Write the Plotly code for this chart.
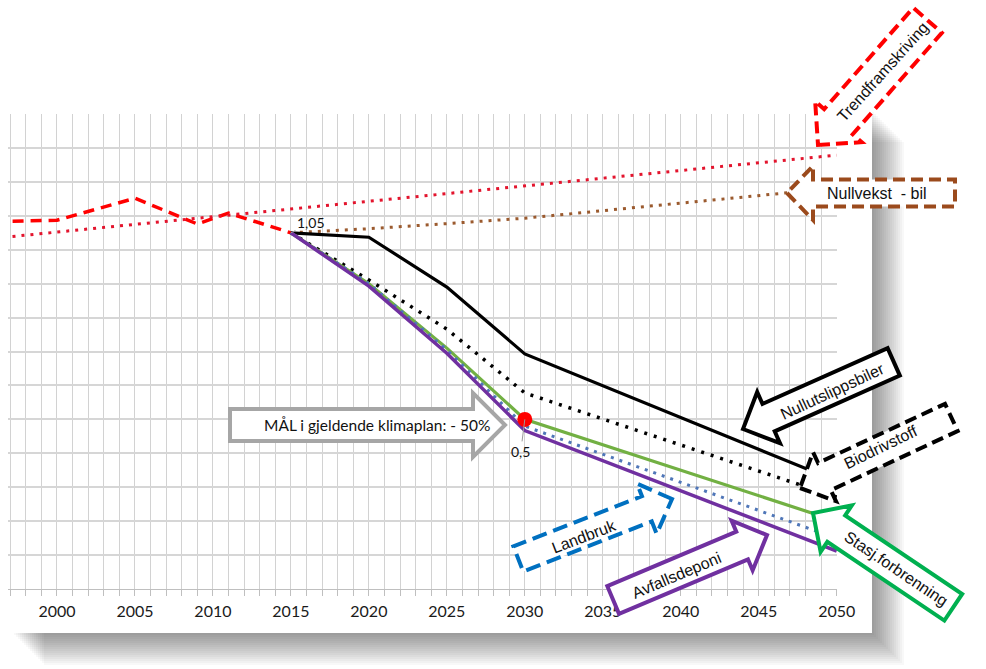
import math
import plotly.graph_objects as go

# ---------------- data ----------------
hist_years = [1996, 2000, 2005, 2009, 2011, 2015]
hist_values = [1.083, 1.087, 1.152, 1.076, 1.108, 1.05]

trend_years = [1996, 2050]
trend_values = [1.034, 1.279]

scen_years = [2015, 2020, 2025, 2030, 2050]
nullvekst_bil = [1.05, 1.062, 1.077, 1.093, 1.182]
nullutslippsbiler = [1.05, 1.037, 0.89, 0.693, 0.318]
biodrivstoff = [1.05, 0.911, 0.766, 0.578, 0.271]
stasj_forbrenning = [1.05, 0.90, 0.71, 0.50, 0.20]
landbruk = [1.05, 0.90, 0.705, 0.48, 0.149]
avfallsdeponi = [1.05, 0.893, 0.695, 0.467, 0.112]

goal_year = [2030]
goal_value = [0.5]

tick_years = [2000, 2005, 2010, 2015, 2020, 2025, 2030, 2035, 2040, 2045, 2050]

# ---------------- layout geometry ----------------
W, H = 986, 669
L, R, T, B = 8, 837, 114, 589          # plot area in page pixels


def px(x, y):
    """page pixel -> paper coords"""
    return (x - L) / (R - L), (B - y) / (B - T)


fig = go.Figure()

FONT_TICK = "Lato, 'Open Sans', sans-serif"
FONT_CALL = "'Liberation Sans', Arial, sans-serif"

fig.add_trace(go.Scatter(x=hist_years, y=hist_values, mode="lines",
                         line=dict(color="#FF0000", width=3.5, dash="11px,7px"),
                         hoverinfo="skip"))
fig.add_trace(go.Scatter(x=trend_years, y=trend_values, mode="lines",
                         line=dict(color="#E3142D", width=3, dash="3px,6px"),
                         hoverinfo="skip"))
fig.add_trace(go.Scatter(x=scen_years, y=nullvekst_bil, mode="lines",
                         line=dict(color="#9B5A2E", width=3, dash="3px,6px"),
                         hoverinfo="skip"))
fig.add_trace(go.Scatter(x=scen_years, y=nullutslippsbiler, mode="lines",
                         line=dict(color="#000000", width=3.2),
                         hoverinfo="skip"))
fig.add_trace(go.Scatter(x=scen_years, y=biodrivstoff, mode="lines",
                         line=dict(color="#000000", width=3.5, dash="3px,7px"),
                         hoverinfo="skip"))
fig.add_trace(go.Scatter(x=scen_years, y=stasj_forbrenning, mode="lines",
                         line=dict(color="#72B043", width=3.2),
                         hoverinfo="skip"))
fig.add_trace(go.Scatter(x=scen_years, y=landbruk, mode="lines",
                         line=dict(color="#4F76B8", width=3, dash="3px,6px"),
                         hoverinfo="skip"))
fig.add_trace(go.Scatter(x=scen_years, y=avfallsdeponi, mode="lines",
                         line=dict(color="#7030A0", width=3.5),
                         hoverinfo="skip"))
fig.add_trace(go.Scatter(x=goal_year, y=goal_value, mode="markers",
                         marker=dict(color="#FF0000", size=15),
                         hoverinfo="skip"))

shapes = []

# soft drop shadow of the chart area (right and bottom)
for k in range(16):
    x0, y0 = px(14 + 2 * k, 112 + 2 * k)
    x1, y1 = px(874 + 2 * k, 635 + 2 * k)
    shapes.append(dict(type="rect", xref="paper", yref="paper",
                       x0=x0, y0=y0, x1=x1, y1=y1, layer="below",
                       line=dict(width=0), fillcolor="rgba(0,0,0,0.028)"))
# white chart area
x0, y0 = px(-2, 109)
x1, y1 = px(872, 633)
shapes.append(dict(type="rect", xref="paper", yref="paper",
                   x0=x0, y0=y0, x1=x1, y1=y1, layer="below",
                   line=dict(width=0), fillcolor="#FFFFFF"))


def block_arrow(tip, angle_deg, length, head_len, head_hw, body_hw):
    a = math.radians(angle_deg)
    ux, uy = math.cos(a), -math.sin(a)
    nx, ny = -uy, ux
    tx, ty = tip

    def P(s, t):
        return (tx + ux * s + nx * t, ty + uy * s + ny * t)

    pts = [P(0, 0), P(head_len, head_hw), P(head_len, body_hw), P(length, body_hw),
           P(length, -body_hw), P(head_len, -body_hw), P(head_len, -head_hw)]
    path = ""
    for i, (x, y) in enumerate(pts):
        xp, yp = px(x, y)
        path += ("M" if i == 0 else "L") + f"{xp:.5f},{yp:.5f} "
    return path + "Z"


# callouts: tip(px), angle, length, head_len, head_hw, body_hw, color, dash, text, text centre(px), textangle, font
callouts = [
    ((818, 145), 48.7, 166, 31, 31, 19, "#FF0000", "12px,6px", "Trendframskriving", (882, 72), -48, FONT_CALL, 16),
    ((787, 193), 0, 168, 26, 27, 13.5, "#9B4A1C", "12px,6px", "Nullvekst  - bil", (877, 193), 0, FONT_CALL, 16),
    ((743, 429), 24, 165, 28, 28, 15, "#000000", "solid", "Nullutslippsbiler", (832, 391), -25, FONT_CALL, 16),
    ((800, 488), 25, 167, 27, 27, 15, "#000000", "12px,6px", "Biodrivstoff", (880, 447), -26, FONT_CALL, 16),
    ((813, 513), -33.9, 169, 28, 28, 16, "#00B050", "solid", "Stasj.forbrenning", (896, 568), 34, FONT_CALL, 16),
    ((672, 499), 201.3, 165, 27, 27, 13.5, "#0070C0", "15px,7px", "Landbruk", (584, 536), -21, FONT_CALL, 16),
    ((767, 535), 202.9, 167, 27, 27, 15, "#7030A0", "solid", "Avfallsdeponi", (676, 575), -23, FONT_CALL, 16),
    ((505, 425), 180, 275, 32, 32, 16, "#A6A6A6", "solid", "MÅL i gjeldende klimaplan: - 50%", (377, 425), 0, FONT_TICK, 15.5),
]

annotations = []
for tip, ang, ln, hl, hhw, bhw, col, dash, txt, tc, ta, fnt, fs in callouts:
    shapes.append(dict(type="path", xref="paper", yref="paper", layer="above",
                       path=block_arrow(tip, ang, ln, hl, hhw, bhw),
                       fillcolor="#FFFFFF",
                       line=dict(color=col, width=4, dash=dash)))
    xp, yp = px(*tc)
    annotations.append(dict(xref="paper", yref="paper", x=xp, y=yp, text=txt,
                            textangle=ta, showarrow=False, xanchor="center", yanchor="middle",
                            font=dict(family=fnt, size=fs, color="#111111")))

# data labels
annotations.append(dict(x=2015, y=1.05, xref="x", yref="y", text="1,05", showarrow=True,
                        ax=20, ay=-10, arrowhead=0, arrowwidth=1, arrowcolor="#9a9a9a",
                        font=dict(family=FONT_TICK, size=14, color="#111111")))
annotations.append(dict(x=2030, y=0.5, xref="x", yref="y", text="0,5", showarrow=True,
                        ax=-4, ay=32, arrowhead=0, arrowwidth=1, arrowcolor="#9a9a9a",
                        font=dict(family=FONT_TICK, size=14, color="#111111")))

fig.update_layout(
    width=W, height=H,
    margin=dict(l=L, r=W - R, t=T, b=H - B, pad=0),
    paper_bgcolor="#FFFFFF",
    plot_bgcolor="rgba(0,0,0,0)",
    showlegend=False,
    shapes=shapes,
    annotations=annotations,
    xaxis=dict(range=[1996.86, 2050.02], tickmode="array", tickvals=tick_years,
               ticktext=[str(t) for t in tick_years],
               showgrid=True, gridcolor="#D2D2D2", gridwidth=1,
               ticks="outside", ticklen=6, tickcolor="#BFBFBF",
               minor=dict(dtick=1, tick0=2000, showgrid=True, gridcolor="#D2D2D2", gridwidth=1,
                          ticks="outside", ticklen=6, tickcolor="#BFBFBF"),
               showline=True, linecolor="#BFBFBF", linewidth=1,
               zeroline=False, ticklabelstandoff=2,
               tickfont=dict(family=FONT_TICK, size=16, color="#1A1A1A")),
    yaxis=dict(range=[0, 1.4002], dtick=0.1, tick0=0, showgrid=True, gridcolor="#D6D6D6",
               gridwidth=2, showticklabels=False, zeroline=False, showline=False, ticks=""),
)

fig.write_html("out.html")
